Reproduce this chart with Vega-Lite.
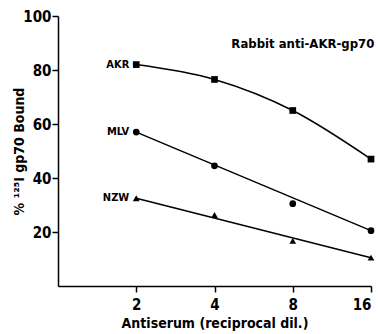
{
  "$schema": "https://vega.github.io/schema/vega-lite/v6.json",
  "autosize": "none",
  "width": 313,
  "height": 270,
  "padding": {"left": 58, "top": 16, "right": 7, "bottom": 48},
  "background": "white",
  "title": {
    "text": "Rabbit anti-AKR-gp70",
    "anchor": "end",
    "offset": -42,
    "font": "DejaVu Sans Condensed",
    "fontWeight": "bold",
    "fontSize": 13,
    "color": "black"
  },
  "config": {
    "view": {"stroke": null},
    "axis": {
      "grid": false,
      "domainColor": "black",
      "domainWidth": 1.5,
      "tickColor": "black",
      "tickWidth": 1.5,
      "tickSize": 6,
      "labelFont": "DejaVu Sans Condensed",
      "labelFontWeight": "bold",
      "labelFontSize": 15,
      "labelColor": "black",
      "titleFont": "DejaVu Sans Condensed",
      "titleFontWeight": "bold",
      "titleFontSize": 14,
      "titleColor": "black"
    }
  },
  "data": {
    "values": [
      {"serum": "AKR", "dil": 2, "pct": 82, "onLine": true},
      {"serum": "AKR", "dil": 4, "pct": 76.5, "onLine": true},
      {"serum": "AKR", "dil": 8, "pct": 65, "onLine": true},
      {"serum": "AKR", "dil": 16, "pct": 47, "onLine": true},
      {"serum": "MLV", "dil": 2, "pct": 57, "onLine": true},
      {"serum": "MLV", "dil": 4, "pct": 44.5, "onLine": false},
      {"serum": "MLV", "dil": 8, "pct": 30.5, "onLine": false},
      {"serum": "MLV", "dil": 16, "pct": 20.5, "onLine": true},
      {"serum": "NZW", "dil": 2, "pct": 32.5, "onLine": true},
      {"serum": "NZW", "dil": 4, "pct": 26.3, "onLine": false},
      {"serum": "NZW", "dil": 8, "pct": 16.7, "onLine": false},
      {"serum": "NZW", "dil": 16, "pct": 10.5, "onLine": true}
    ]
  },
  "encoding": {
    "x": {
      "field": "dil",
      "type": "quantitative",
      "scale": {"type": "log", "base": 2, "domain": [1, 16], "nice": false},
      "axis": {"values": [2, 4, 8, 16], "title": "Antiserum (reciprocal dil.)", "labelPadding": 5, "titlePadding": 4}
    },
    "y": {
      "field": "pct",
      "type": "quantitative",
      "scale": {"domain": [0, 100], "nice": false},
      "axis": {"values": [20, 40, 60, 80, 100], "title": "% ¹²⁵I gp70 Bound", "labelPadding": 1, "titlePadding": -4}
    }
  },
  "layer": [
    {
      "transform": [{"filter": "datum.onLine"}],
      "mark": {"type": "line", "interpolate": "monotone", "color": "black", "strokeWidth": 1.5},
      "encoding": {"detail": {"field": "serum"}}
    },
    {
      "mark": {"type": "point", "filled": true, "color": "black", "opacity": 1, "size": 45},
      "encoding": {
        "shape": {
          "field": "serum",
          "type": "nominal",
          "scale": {"domain": ["AKR", "MLV", "NZW"], "range": ["square", "circle", "triangle-up"]},
          "legend": null
        }
      }
    },
    {
      "transform": [{"filter": "datum.dil == 2"}],
      "mark": {"type": "text", "align": "right", "dx": -7, "font": "DejaVu Sans Condensed", "fontWeight": "bold", "fontSize": 11, "color": "black"},
      "encoding": {"text": {"field": "serum"}}
    }
  ]
}
